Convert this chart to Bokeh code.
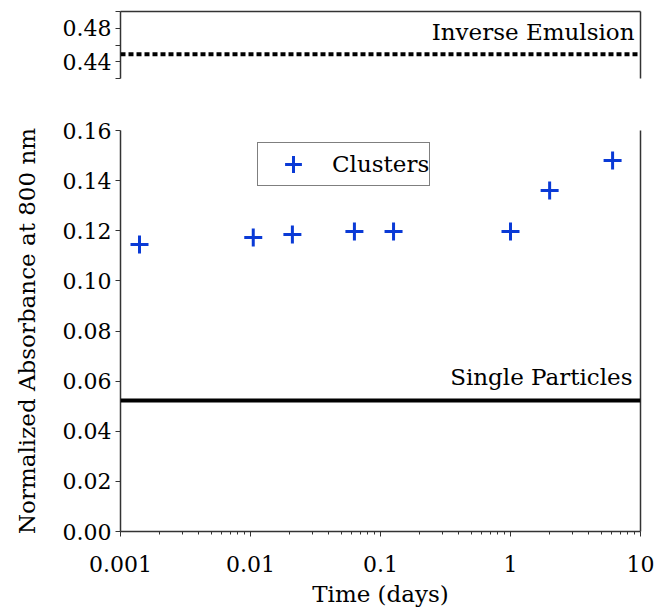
from bokeh.plotting import figure
from bokeh.layouts import column
from bokeh.models import (FixedTicker, CustomJSTickFormatter, Span, Label, Legend, LegendItem,
                          LinearAxis, PrintfTickFormatter)
from bokeh.embed import file_html
from bokeh.resources import INLINE

# ---- data ----
time_days = [0.0014, 0.0105, 0.021, 0.063, 0.126, 1.0, 2.0, 6.1]
absorbance = [0.1145, 0.1173, 0.1185, 0.1197, 0.1197, 0.1197, 0.1361, 0.1480]
single_particles = 0.0523
inverse_emulsion = 0.449
x_major_ticks = [0.001, 0.01, 0.1, 1, 10]
y_main_ticks = [0.00, 0.02, 0.04, 0.06, 0.08, 0.10, 0.12, 0.14, 0.16]
y_top_ticks = [0.44, 0.48]
y_top_minor = [0.42, 0.46, 0.50]

FONT = "DejaVu Serif"
AX = "#333333"
BLUE = "#0a3ad6"
TICK_FS = "22px"
LAB_FS = "23px"

x_minor = [m * d for d in [0.001, 0.01, 0.1, 1] for m in range(2, 10)]


def blank_axis(axis_cls=LinearAxis):
    ax = axis_cls(ticker=FixedTicker(ticks=[]), major_label_text_font_size="0px",
                  major_tick_out=0, major_tick_in=0, minor_tick_out=0, minor_tick_in=0,
                  major_label_standoff=0, axis_line_color=AX, axis_line_width=1.5)
    return ax


def style_ticks(ax):
    ax.major_label_text_font = FONT
    ax.major_label_text_font_size = TICK_FS
    ax.major_label_text_color = "black"
    ax.axis_label_text_font = FONT
    ax.axis_label_text_font_size = LAB_FS
    ax.axis_label_text_font_style = "normal"
    ax.axis_label_text_color = "black"
    ax.axis_line_color = AX
    ax.axis_line_width = 1.5
    ax.major_tick_line_color = AX
    ax.minor_tick_line_color = AX
    ax.major_tick_in = 0
    ax.minor_tick_in = 0


# ---- top panel ----
top = figure(x_axis_type="log", x_range=(0.001, 10), y_range=(0.42, 0.50),
             frame_width=520, frame_height=67,
             min_border_left=120, min_border_right=16, min_border_top=11, min_border_bottom=22,
             x_axis_location=None, output_backend="svg", toolbar_location=None)
top.outline_line_color = None
top.grid.visible = False
top_y = top.yaxis[0]
top_y.ticker = FixedTicker(ticks=y_top_ticks, minor_ticks=y_top_minor)
top_y.formatter = PrintfTickFormatter(format="%.2f")
style_ticks(top_y)
top_y.major_label_standoff = 4
top_y.major_tick_out = 5
top_y.minor_tick_out = 5
top.add_layout(blank_axis(), "right")
top.add_layout(blank_axis(), "above")
top.add_layout(Span(location=inverse_emulsion, dimension="width", line_color="black",
                    line_width=4, line_dash="5 3"))
top.add_layout(Label(x=10, y=inverse_emulsion, x_offset=-6, y_offset=22, text="Inverse Emulsion",
                     text_align="right", text_baseline="middle", text_font=FONT,
                     text_font_size=LAB_FS, text_color="black"))

# ---- main panel ----
p = figure(x_axis_type="log", x_range=(0.001, 10), y_range=(0, 0.16),
           frame_width=520, frame_height=401,
           min_border_left=120, min_border_right=16, min_border_top=30, min_border_bottom=81,
           output_backend="svg", toolbar_location=None)
p.outline_line_color = None
p.grid.visible = False

xa = p.xaxis[0]
ya = p.yaxis[0]
xa.ticker = FixedTicker(ticks=x_major_ticks, minor_ticks=x_minor)
xa.formatter = CustomJSTickFormatter(code="return tick.toString();")
ya.ticker = FixedTicker(ticks=y_main_ticks)
ya.formatter = PrintfTickFormatter(format="%.2f")
xa.axis_label = "Time (days)"
ya.axis_label = "Normalized Absorbance at 800 nm"
style_ticks(xa)
style_ticks(ya)
xa.major_tick_out = 5
xa.minor_tick_out = 3
xa.major_label_standoff = 19
xa.axis_label_standoff = 6
ya.major_tick_out = 5
ya.minor_tick_out = 0
ya.major_label_standoff = 4
ya.axis_label_standoff = 20

p.add_layout(blank_axis(), "right")

p.add_layout(Span(location=single_particles, dimension="width", line_color="black", line_width=4))
p.add_layout(Label(x=10, y=single_particles, x_offset=-8, y_offset=23, text="Single Particles",
                   text_align="right", text_baseline="middle", text_font=FONT,
                   text_font_size=LAB_FS, text_color="black"))

r = p.scatter(time_days, absorbance, marker="cross", size=18, line_color=BLUE,
              line_width=3, fill_color=None)

legend = Legend(items=[LegendItem(label="Clusters", renderers=[r])],
                location=(137, 345), padding=0, margin=0, spacing=0,
                glyph_width=70, glyph_height=42, label_standoff=4, label_width=97,
                label_text_font=FONT, label_text_font_size=LAB_FS, label_text_color="black",
                label_text_baseline="middle",
                border_line_color="black", border_line_width=1.5, background_fill_alpha=1)
p.add_layout(legend)

layout = column(top, p, spacing=0)
open("out.html", "w").write(file_html(layout, INLINE))
